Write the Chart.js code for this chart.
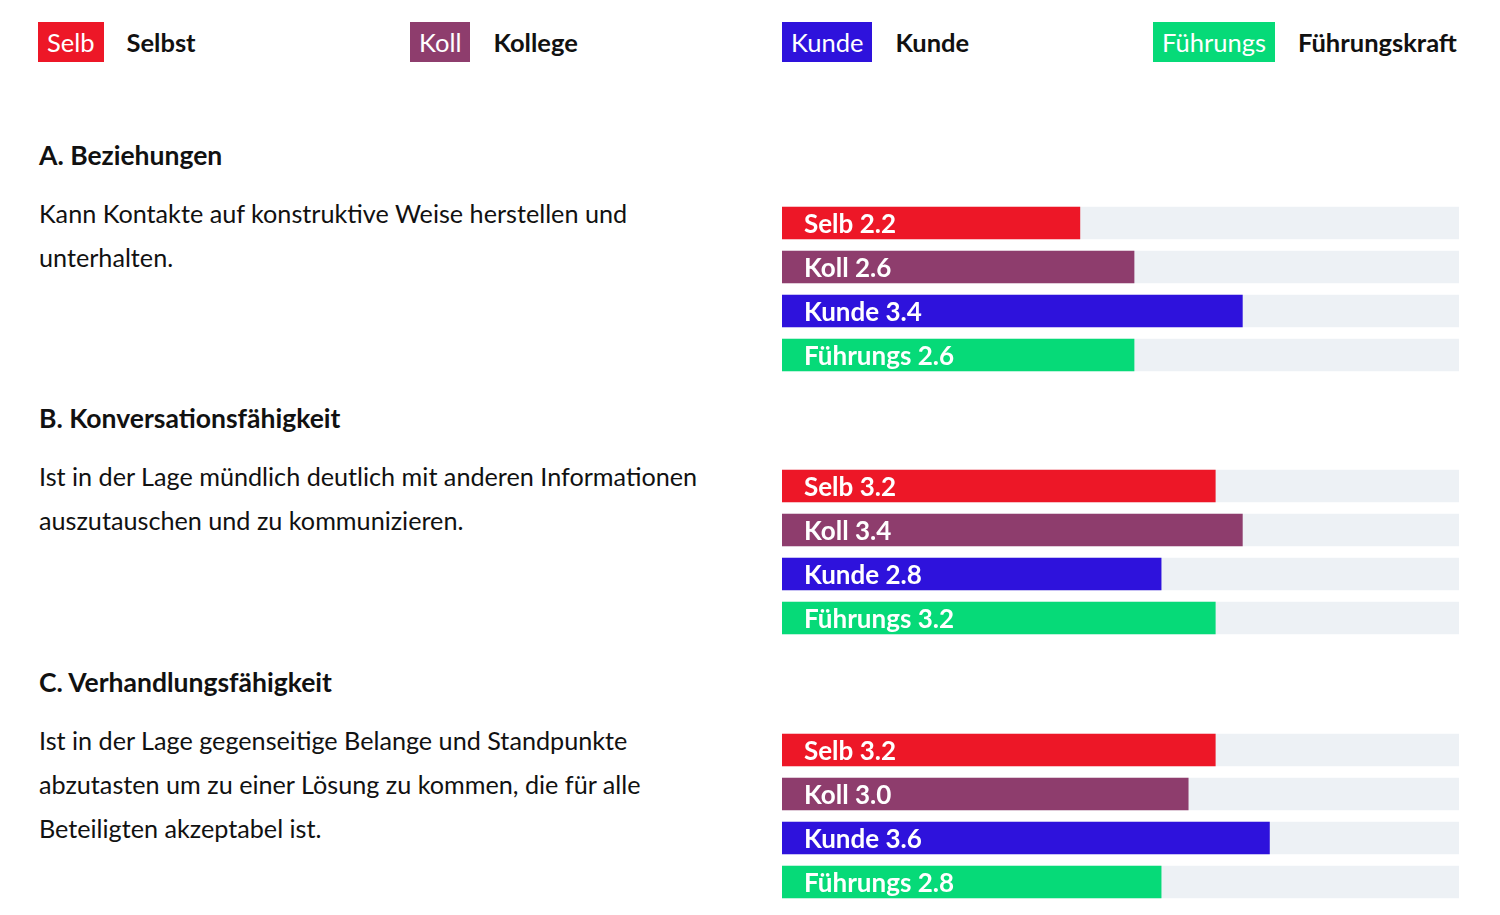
<!DOCTYPE html>
<html>
<head>
<meta charset="utf-8">
<script src="https://cdn.jsdelivr.net/npm/chart.js@4"></script>
<style>
  body { margin: 0; background: #fff; width: 1500px; height: 915px; position: relative; overflow: hidden;
         font-family: Lato, 'Noto Sans', sans-serif; color: #111; }
  .abs { position: absolute; }
  .tag { position: absolute; top: 22px; height: 40px; line-height: 40px; padding: 0 9px; color: #fff; font-size: 25.5px; }
  .tag-name { position: absolute; top: 22px; line-height: 40px; font-size: 25.5px; font-weight: 700; }
  .title { font-size: 26.5px; font-weight: 700; line-height: 44px; left: 39px; }
  .desc { font-size: 25.2px; line-height: 44px; left: 39px; white-space: nowrap; }
  canvas { position: absolute; left: 782px; }
</style>
</head>
<body>
<script>
// Kategorien / Beurteiler
const categories = ['Selb', 'Koll', 'Kunde', 'Führungs'];
const legendNames = ['Selbst', 'Kollege', 'Kunde', 'Führungskraft'];
const colors = ['#ed1727', '#8e3d6d', '#2e12dc', '#06da78'];
const trackColor = '#edf1f5';
const maxScore = 5;

// Abschnitte
const sectionTitles = ['A. Beziehungen', 'B. Konversationsfähigkeit', 'C. Verhandlungsfähigkeit'];
const sectionLines = [
    ['Kann Kontakte auf konstruktive Weise herstellen und', 'unterhalten.'],
    ['Ist in der Lage mündlich deutlich mit anderen Informationen', 'auszutauschen und zu kommunizieren.'],
    ['Ist in der Lage gegenseitige Belange und Standpunkte', 'abzutasten um zu einer Lösung zu kommen, die für alle', 'Beteiligten akzeptabel ist.'],
];
const scoresA = [2.2, 2.6, 3.4, 2.6];
const scoresB = [3.2, 3.4, 2.8, 3.2];
const scoresC = [3.2, 3.0, 3.6, 2.8];
const sectionScores = [scoresA, scoresB, scoresC];

const legendX = [38, 410, 782, 1153];
const sectionOffsets = [0, 263, 527];

// Legende
categories.forEach((c, i) => {
    const tag = document.createElement('div');
    tag.className = 'tag';
    tag.style.left = legendX[i] + 'px';
    tag.style.background = colors[i];
    tag.textContent = c;
    document.body.appendChild(tag);
    const w = tag.getBoundingClientRect().width;
    const name = document.createElement('div');
    name.className = 'tag-name';
    name.style.left = (legendX[i] + w + 23) + 'px';
    name.textContent = legendNames[i];
    document.body.appendChild(name);
});

// Beschriftung in den Balken
const barLabels = {
    id: 'barLabels',
    afterDatasetsDraw(chart) {
        const ctx = chart.ctx;
        const meta = chart.getDatasetMeta(1);
        const values = chart.data.datasets[1].data;
        ctx.save();
        ctx.font = "bold 26px Lato, 'Noto Sans', sans-serif";
        ctx.fillStyle = '#fff';
        ctx.textBaseline = 'middle';
        meta.data.forEach((bar, i) => {
            ctx.fillText(`${chart.data.labels[i]} ${values[i].toFixed(1)}`, bar.base + 22, bar.y + 2);
        });
        ctx.restore();
    },
};

sectionTitles.forEach((t, s) => {
    const off = sectionOffsets[s];
    const title = document.createElement('div');
    title.className = 'abs title';
    title.style.top = (133 + off) + 'px';
    title.textContent = t;
    document.body.appendChild(title);

    const desc = document.createElement('div');
    desc.className = 'abs desc';
    desc.style.top = (191 + off) + 'px';
    desc.innerHTML = sectionLines[s].join('<br>');
    document.body.appendChild(desc);

    const canvas = document.createElement('canvas');
    canvas.width = 677;
    canvas.height = 176;
    canvas.style.top = (201 + off) + 'px';
    document.body.appendChild(canvas);

    new Chart(canvas.getContext('2d'), {
        type: 'bar',
        data: {
            labels: categories,
            datasets: [
                {
                    data: categories.map(() => maxScore),
                    backgroundColor: trackColor,
                    barThickness: 32,
                    grouped: false,
                    order: 2,
                },
                {
                    data: sectionScores[s],
                    backgroundColor: colors,
                    barThickness: 32,
                    grouped: false,
                    order: 1,
                },
            ],
        },
        options: {
            indexAxis: 'y',
            responsive: false,
            animation: false,
            layout: { padding: 0 },
            scales: {
                x: { display: false, min: 0, max: maxScore },
                y: { display: false },
            },
            plugins: {
                legend: { display: false },
                tooltip: { enabled: false },
            },
        },
        plugins: [barLabels],
    });
});
</script>
</body>
</html>
